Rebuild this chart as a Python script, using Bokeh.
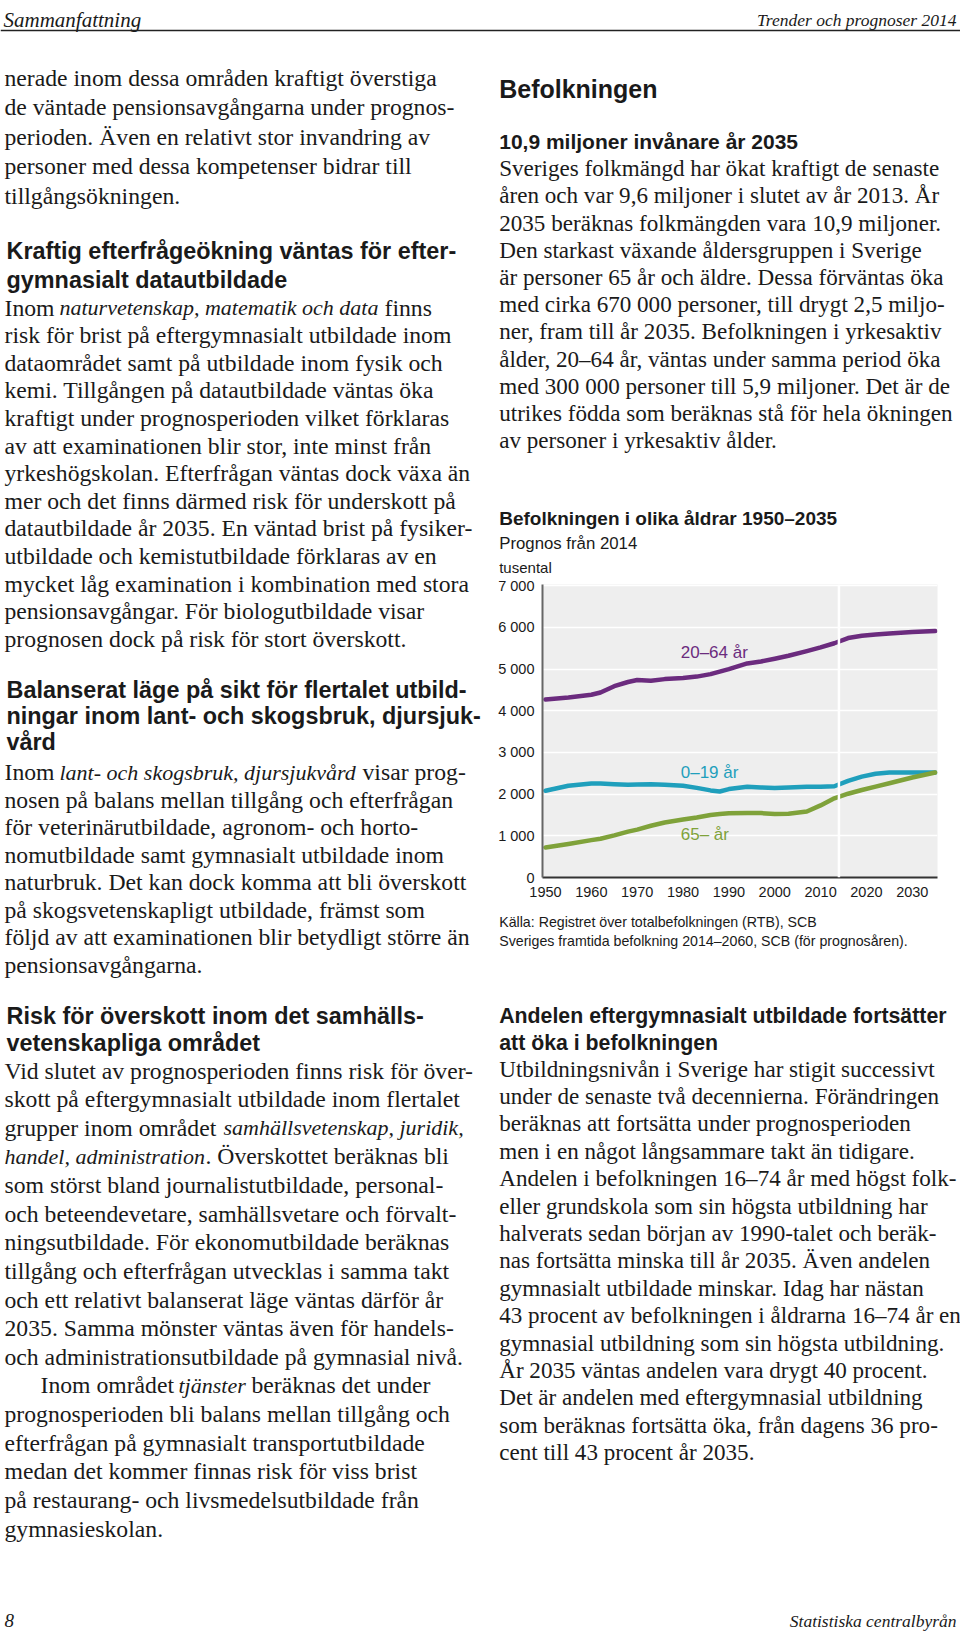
from bokeh.plotting import figure
from bokeh.models import Range1d, ColumnDataSource, FixedTicker, Span
from bokeh.layouts import column, row
from bokeh.core.properties import value
from bokeh.embed import file_html
from bokeh.resources import INLINE

# ---------------- chart data (thousands of persons) ----------------
years = [1950, 1955, 1960, 1962, 1965, 1968, 1970, 1973, 1976, 1980, 1983, 1986, 1988,
         1990, 1994, 1997, 2000, 2003, 2007, 2010, 2013, 2016, 2019, 2022, 2025, 2030, 2035]
age_20_64 = [4270, 4320, 4385, 4440, 4590, 4690, 4737, 4720, 4760, 4785, 4820, 4880, 4940,
             5000, 5136, 5184, 5250, 5320, 5430, 5520, 5620, 5745, 5800, 5830, 5856, 5890, 5913]
age_0_19 = [2081, 2200, 2256, 2256, 2240, 2225, 2230, 2240, 2225, 2200, 2150, 2090, 2064,
            2121, 2177, 2160, 2145, 2160, 2177, 2177, 2190, 2320, 2420, 2490, 2520, 2520, 2520]
age_65 = [720, 805, 897, 930, 1010, 1100, 1150, 1241, 1320, 1390, 1440, 1500, 1521,
          1540, 1545, 1545, 1525, 1530, 1585, 1730, 1900, 2010, 2100, 2180, 2260, 2400, 2520]
series_names = ["20–64 år", "0–19 år", "65– år"]
series_colors = ["#6b2b7e", "#1f9fbc", "#7fa23a"]
label_year = 1979.5
label_values = [5400, 2520, 1040]
prognosis_start = 2014
y_ticks = [0, 1000, 2000, 3000, 4000, 5000, 6000, 7000]
y_tick_labels = ["0", "1 000", "2 000", "3 000", "4 000", "5 000", "6 000", "7 000"]
x_ticks = [1950, 1960, 1970, 1980, 1990, 2000, 2010, 2020, 2030]
x_tick_labels = ["1950", "1960", "1970", "1980", "1990", "2000", "2010", "2020", "2030"]

# ---------------- page text ----------------
BODY = "Liberation Serif"
SANS = "Liberation Sans"
INK = "#1a1a1a"
LSIZE, LISIZE = 23.7, 22.0
RSIZE = 23.1
HSIZE = 23.4

items = []


def add(col, x, y, text, font=BODY, size=LSIZE, style="normal", color=INK, align="left"):
    items.append(dict(col=col, x=x, y=y, text=text, font=font, size=size,
                      style=style, color=color, align=align))


def block(col, x, y0, step, lines, size, font=BODY, style="normal", isize=None, color=INK):
    for i, ln in enumerate(lines):
        y = y0 + i * step
        if isinstance(ln, str):
            add(col, x, y, ln, font, size, style, color)
        else:
            for sx, st, sstyle in ln:
                add(col, sx, y, st, font, size if sstyle == "normal" else isize, sstyle, color)


left_p1 = ["nerade inom dessa områden kraftigt överstiga",
           "de väntade pensionsavgångarna under prognos-",
           "perioden. Även en relativt stor invandring av",
           "personer med dessa kompetenser bidrar till",
           "tillgångsökningen."]
left_h1 = ["Kraftig efterfrågeökning väntas för efter-", "gymnasialt datautbildade"]
left_p2 = [[(4, "Inom", "normal"), (59, "naturvetenskap, matematik och data", "italic"), (384, "finns", "normal")],
           "risk för brist på eftergymnasialt utbildade inom",
           "dataområdet samt på utbildade inom fysik och",
           "kemi. Tillgången på datautbildade väntas öka",
           "kraftigt under prognosperioden vilket förklaras",
           "av att examinationen blir stor, inte minst från",
           "yrkeshögskolan. Efterfrågan väntas dock växa än",
           "mer och det finns därmed risk för underskott på",
           "datautbildade år 2035. En väntad brist på fysiker-",
           "utbildade och kemistutbildade förklaras av en",
           "mycket låg examination i kombination med stora",
           "pensionsavgångar. För biologutbildade visar",
           "prognosen dock på risk för stort överskott."]
left_h2 = ["Balanserat läge på sikt för flertalet utbild-",
           "ningar inom lant- och skogsbruk, djursjuk-", "vård"]
left_p3 = [[(4, "Inom", "normal"), (59, "lant- och skogsbruk, djursjukvård", "italic"), (362, "visar prog-", "normal")],
           "nosen på balans mellan tillgång och efterfrågan",
           "för veterinärutbildade, agronom- och horto-",
           "nomutbildade samt gymnasialt utbildade inom",
           "naturbruk. Det kan dock komma att bli överskott",
           "på skogsvetenskapligt utbildade, främst som",
           "följd av att examinationen blir betydligt större än",
           "pensionsavgångarna."]
left_h3 = ["Risk för överskott inom det samhälls-", "vetenskapliga området"]
left_p4 = ["Vid slutet av prognosperioden finns risk för över-",
           "skott på eftergymnasialt utbildade inom flertalet",
           [(4, "grupper inom området", "normal"), (223, "samhällsvetenskap, juridik,", "italic")],
           [(4, "handel, administration", "italic"), (205, ". Överskottet beräknas bli", "normal")],
           "som störst bland journalistutbildade, personal-",
           "och beteendevetare, samhällsvetare och förvalt-",
           "ningsutbildade. För ekonomutbildade beräknas",
           "tillgång och efterfrågan utvecklas i samma takt",
           "och ett relativt balanserat läge väntas därför år",
           "2035. Samma mönster väntas även för handels-",
           "och administrationsutbildade på gymnasial nivå.",
           [(40, "Inom området", "normal"), (178, "tjänster", "italic"), (251, "beräknas det under", "normal")],
           "prognosperioden bli balans mellan tillgång och",
           "efterfrågan på gymnasialt transportutbildade",
           "medan det kommer finnas risk för viss brist",
           "på restaurang- och livsmedelsutbildade från",
           "gymnasieskolan."]

right_p1 = ["Sveriges folkmängd har ökat kraftigt de senaste",
            "åren och var 9,6 miljoner i slutet av år 2013. År",
            "2035 beräknas folkmängden vara 10,9 miljoner.",
            "Den starkast växande åldersgruppen i Sverige",
            "är personer 65 år och äldre. Dessa förväntas öka",
            "med cirka 670 000 personer, till drygt 2,5 miljo-",
            "ner, fram till år 2035. Befolkningen i yrkesaktiv",
            "ålder, 20–64 år, väntas under samma period öka",
            "med 300 000 personer till 5,9 miljoner. Det är de",
            "utrikes födda som beräknas stå för hela ökningen",
            "av personer i yrkesaktiv ålder."]
right_h2 = ["Andelen eftergymnasialt utbildade fortsätter", "att öka i befolkningen"]
right_p2 = ["Utbildningsnivån i Sverige har stigit successivt",
            "under de senaste två decennierna. Förändringen",
            "beräknas att fortsätta under prognosperioden",
            "men i en något långsammare takt än tidigare.",
            "Andelen i befolkningen 16–74 år med högst folk-",
            "eller grundskola som sin högsta utbildning har",
            "halverats sedan början av 1990-talet och beräk-",
            "nas fortsätta minska till år 2035. Även andelen",
            "gymnasialt utbildade minskar. Idag har nästan",
            "43 procent av befolkningen i åldrarna 16–74 år en",
            "gymnasial utbildning som sin högsta utbildning.",
            "År 2035 väntas andelen vara drygt 40 procent.",
            "Det är andelen med eftergymnasial utbildning",
            "som beräknas fortsätta öka, från dagens 36 pro-",
            "cent till 43 procent år 2035."]
chart_title = "Befolkningen i olika åldrar 1950–2035"
chart_subtitle = "Prognos från 2014"
chart_unit = "tusental"
chart_source = ["Källa: Registret över totalbefolkningen (RTB), SCB",
                "Sveriges framtida befolkning 2014–2060, SCB (för prognosåren)."]

# left column (page pixel coordinates)
block("L", 4, 77, 29.6, left_p1, LSIZE)
block("L", 6, 250, 29.0, left_h1, HSIZE, SANS, "bold")
block("L", 4, 307, 27.6, left_p2, LSIZE, isize=LISIZE)
block("L", 6, 689, 26.0, left_h2, HSIZE, SANS, "bold")
block("L", 4, 771.5, 27.5, left_p3, LSIZE, isize=LISIZE)
block("L", 6, 1015, 27.0, left_h3, HSIZE, SANS, "bold")
block("L", 4, 1070, 28.63, left_p4, LSIZE, isize=LISIZE)

# right column
RX = 498.7
add("R", RX, 88.5, "Befolkningen", SANS, 25, "bold")
add("R", RX, 140.6, "10,9 miljoner invånare år 2035", SANS, 21, "bold")
block("R", RX, 167.6, 27.2, right_p1, RSIZE)
add("R", RX, 517.5, chart_title, SANS, 19, "bold")
add("R", RX, 543.3, chart_subtitle, SANS, 16.8)
add("R", RX, 566.7, chart_unit, SANS, 15)
block("R", RX, 921.0, 19.5, chart_source, 14.2, SANS)
block("R", RX, 1015, 27.0, right_h2, 21.3, SANS, "bold")
block("R", RX, 1068, 27.4, right_p2, RSIZE)

# ---------------- layout geometry ----------------
PAGE_W = 960
HEAD_H = 50
BODY_TOP = 50
BODY_BOT = 1570
FOOT_H = 62
LEFT_W = 484
RIGHT_W = PAGE_W - LEFT_W
CHART_TOP, CHART_BOT = 575, 902


def no_align(p):
    try:
        p.frame_align = False
    except Exception:
        pass


def page_fig(w, h):
    p = figure(width=w, height=h, x_range=Range1d(0, w), y_range=Range1d(h, 0),
               x_axis_type=None, y_axis_type=None, toolbar_location=None,
               output_backend="svg", min_border=0, title=None, outline_line_color=None)
    p.grid.visible = False
    no_align(p)
    return p


def render(fig, its, ox, oy):
    groups = {}
    for it in its:
        key = (it["font"], it["size"], it["style"], it["color"], it["align"])
        groups.setdefault(key, []).append(it)
    for (font, size, style, color, align), g in groups.items():
        src = ColumnDataSource(dict(x=[it["x"] - ox for it in g],
                                    y=[it["y"] - oy for it in g],
                                    t=[it["text"] for it in g]))
        fig.text(x="x", y="y", text="t", source=src, text_font=value(font),
                 text_font_size=value(f"{size}px"), text_font_style=style,
                 text_color=color, text_align=align, text_baseline="middle")


header = page_fig(PAGE_W, HEAD_H)
render(header, [dict(x=3, y=19, text="Sammanfattning", font=BODY, size=21, style="italic", color=INK, align="left"),
                dict(x=956, y=19, text="Trender och prognoser 2014", font=BODY, size=17.5, style="italic", color=INK, align="right")], 0, 0)
header.add_layout(Span(location=30, dimension="width", line_color="#222222", line_width=1.6))

left = page_fig(LEFT_W, BODY_BOT - BODY_TOP)
render(left, [i for i in items if i["col"] == "L"], 0, BODY_TOP)

rt = page_fig(RIGHT_W, CHART_TOP - BODY_TOP)
render(rt, [i for i in items if i["col"] == "R" and i["y"] < CHART_TOP], LEFT_W, BODY_TOP)

rb = page_fig(RIGHT_W, BODY_BOT - CHART_BOT)
render(rb, [i for i in items if i["col"] == "R" and i["y"] > CHART_BOT], LEFT_W, CHART_BOT)

footer = page_fig(PAGE_W, FOOT_H)
render(footer, [dict(x=4, y=50, text="8", font=BODY, size=19, style="italic", color=INK, align="left"),
                dict(x=956, y=50, text="Statistiska centralbyrån", font=BODY, size=17.5, style="italic", color=INK, align="right")], 0, 0)

# ---------------- chart ----------------
chart = figure(width=RIGHT_W, height=CHART_BOT - CHART_TOP, title=None,
               x_range=Range1d(1949.35, 2035.5), y_range=Range1d(0, 7030),
               output_backend="svg", toolbar_location=None,
               min_border_left=58, min_border_right=23, min_border_top=9, min_border_bottom=25,
               background_fill_color="#eeeeee", border_fill_color="white", outline_line_color=None)
no_align(chart)
chart.xgrid.visible = False
chart.ygrid.ticker = FixedTicker(ticks=y_ticks[1:])
chart.ygrid.grid_line_color = "white"
chart.ygrid.grid_line_width = 1.5
chart.add_layout(Span(location=prognosis_start, dimension="height", line_color="white", line_width=2.5))

for vals, c in zip([age_20_64, age_0_19, age_65], series_colors):
    chart.line(years, vals, line_color=c, line_width=4.5, line_cap="round", line_join="round")

chart.text(x=[label_year] * 3, y=label_values, text=series_names, text_color=series_colors,
           text_font=value(SANS), text_font_size=value("17px"), text_baseline="middle", text_align="left")

chart.xaxis.ticker = FixedTicker(ticks=x_ticks)
chart.xaxis.major_label_overrides = dict(zip(x_ticks, x_tick_labels))
chart.yaxis.ticker = FixedTicker(ticks=y_ticks)
chart.yaxis.major_label_overrides = dict(zip(y_ticks, y_tick_labels))
for ax in (chart.xaxis[0], chart.yaxis[0]):
    ax.major_tick_line_color = None
    ax.minor_tick_line_color = None
    ax.major_tick_out = 0
    ax.major_tick_in = 0
    ax.minor_tick_out = 0
    ax.major_label_text_font = SANS
    ax.major_label_text_font_size = "14.5px"
    ax.major_label_text_color = "#1a1a1a"
    ax.axis_line_width = 2
chart.xaxis.axis_line_color = "#333333"
chart.yaxis.axis_line_color = "#666666"
chart.xaxis.major_label_standoff = 9
chart.yaxis.major_label_standoff = 8

page = column(header, row(left, column(rt, chart, rb)), footer)
open("out.html", "w").write(file_html(page, INLINE))
